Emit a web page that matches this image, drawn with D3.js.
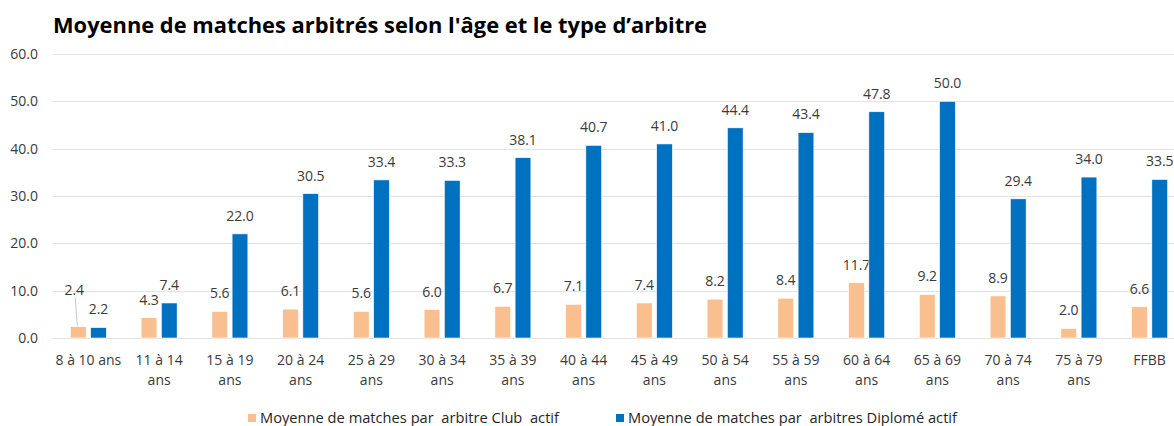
<!DOCTYPE html>
<html>
<head>
<meta charset="utf-8">
<script src="https://cdn.jsdelivr.net/npm/d3@7/dist/d3.min.js"></script>
<style>
  body { margin: 0; background: #fff; }
  svg text { font-family: "Open Sans", "Noto Sans", sans-serif; fill: #3a3a3a; }
</style>
</head>
<body>
<div id="chart"></div>
<script>
// data
var categories = ["8 à 10 ans", "11 à 14\nans", "15 à 19\nans", "20 à 24\nans", "25 à 29\nans",
  "30 à 34\nans", "35 à 39\nans", "40 à 44\nans", "45 à 49\nans", "50 à 54\nans", "55 à 59\nans",
  "60 à 64\nans", "65 à 69\nans", "70 à 74\nans", "75 à 79\nans", "FFBB"];
var clubValues = [2.4, 4.3, 5.6, 6.1, 5.6, 6.0, 6.7, 7.1, 7.4, 8.2, 8.4, 11.7, 9.2, 8.9, 2.0, 6.6];
var diplomeValues = [2.2, 7.4, 22.0, 30.5, 33.4, 33.3, 38.1, 40.7, 41.0, 44.4, 43.4, 47.8, 50.0, 29.4, 34.0, 33.5];
var seriesNames = ["Moyenne de matches par  arbitre Club  actif", "Moyenne de matches par  arbitres Diplomé actif"];
var yTicks = [0, 10, 20, 30, 40, 50, 60];
var title = "Moyenne de matches arbitrés selon l'âge et le type d’arbitre";

var width = 1174, height = 426;
var colors = ["#F9BF8F", "#0070C0"];

var svg = d3.select("#chart").append("svg")
  .attr("width", width)
  .attr("height", height);

var x = d3.scaleBand().domain(categories).range([53, 1185]).padding(0);
var y = d3.scaleLinear().domain([0, 60]).range([338, 54]);
var half = x.bandwidth() / 2;
var xSub = d3.scaleBand().domain([0, 1]).range([half - 18, half + 18]).paddingInner(0.22);

// title
svg.append("text")
  .attr("x", 53).attr("y", 33)
  .attr("font-size", "22px")
  .attr("font-weight", "bold")
  .attr("textLength", 654)
  .attr("lengthAdjust", "spacingAndGlyphs")
  .style("fill", "#000")
  .text(title);

// grid
svg.append("g").selectAll("line")
  .data(yTicks)
  .join("line")
  .attr("x1", 53).attr("x2", width)
  .attr("y1", function (d) { return Math.round(y(d)) + 0.5; })
  .attr("y2", function (d) { return Math.round(y(d)) + 0.5; })
  .attr("stroke", "#E3E3E3")
  .attr("stroke-width", 1.2);

// y axis, labels only
var yAxis = svg.append("g")
  .attr("transform", "translate(38,0)")
  .call(d3.axisLeft(y).tickValues(yTicks).tickFormat(d3.format(".1f")).tickSize(0).tickPadding(0));
yAxis.select(".domain").remove();
yAxis.attr("font-family", null);
yAxis.selectAll("text")
  .attr("font-size", "14px")
  .attr("fill", null);

// x axis labels
var xAxis = svg.append("g")
  .attr("transform", "translate(0,338)")
  .call(d3.axisBottom(x).tickSize(0).tickFormat(""));
xAxis.select(".domain").remove();
xAxis.selectAll(".tick").each(function (d) {
  var t = d3.select(this).append("text")
    .attr("text-anchor", "middle")
    .attr("font-size", "14px");
  d.split("\n").forEach(function (line, i) {
    t.append("tspan").attr("x", 0).attr("y", 27 + i * 20).text(line);
  });
});

var series = [clubValues, diplomeValues];

series.forEach(function (vals, s) {
  var g = svg.append("g");
  g.selectAll("rect")
    .data(vals)
    .join("rect")
    .attr("x", function (d, i) { return x(categories[i]) + xSub(s); })
    .attr("y", function (d) { return y(d); })
    .attr("width", xSub.bandwidth())
    .attr("height", function (d) { return y(0) - y(d); })
    .attr("fill", colors[s])
    .attr("stroke", "#ffffff")
    .attr("stroke-width", 0.6);

  g.selectAll("text")
    .data(vals)
    .join("text")
    .attr("x", function (d, i) {
      var cx = x(categories[i]) + xSub(s) + xSub.bandwidth() / 2;
      if (s === 0 && i === 0) cx -= 4; // label moved in the original
      return cx;
    })
    .attr("y", function (d, i) {
      var cy = y(d) - 18;
      if (s === 0 && i === 0) cy = y(d) - 37;
      return cy;
    })
    .attr("dy", "0.35em")
    .attr("text-anchor", "middle")
    .attr("font-size", "14px")
    .text(function (d) { return d3.format(".1f")(d); });
});

// leader line for the moved label
var lx = x(categories[0]) + xSub(0) + xSub.bandwidth() / 2;
svg.append("line")
  .attr("x1", lx - 3).attr("y1", y(clubValues[0]) - 29)
  .attr("x2", lx - 1).attr("y2", y(clubValues[0]) - 1)
  .attr("stroke", "#C8C8C8")
  .attr("stroke-width", 1);

// legend
var legendX = [248, 616];
var legendW = [299, 329];
var legend = svg.append("g");
seriesNames.forEach(function (name, i) {
  legend.append("rect")
    .attr("x", legendX[i]).attr("y", 414)
    .attr("width", 8).attr("height", 8)
    .attr("fill", colors[i]);
  legend.append("text")
    .attr("x", legendX[i] + 12).attr("y", 423)
    .attr("font-size", "14px")
    .attr("xml:space", "preserve")
    .style("white-space", "pre")
    .style("fill", "#262626")
    .attr("textLength", legendW[i])
    .attr("lengthAdjust", "spacingAndGlyphs")
    .text(name);
});
</script>
</body>
</html>
